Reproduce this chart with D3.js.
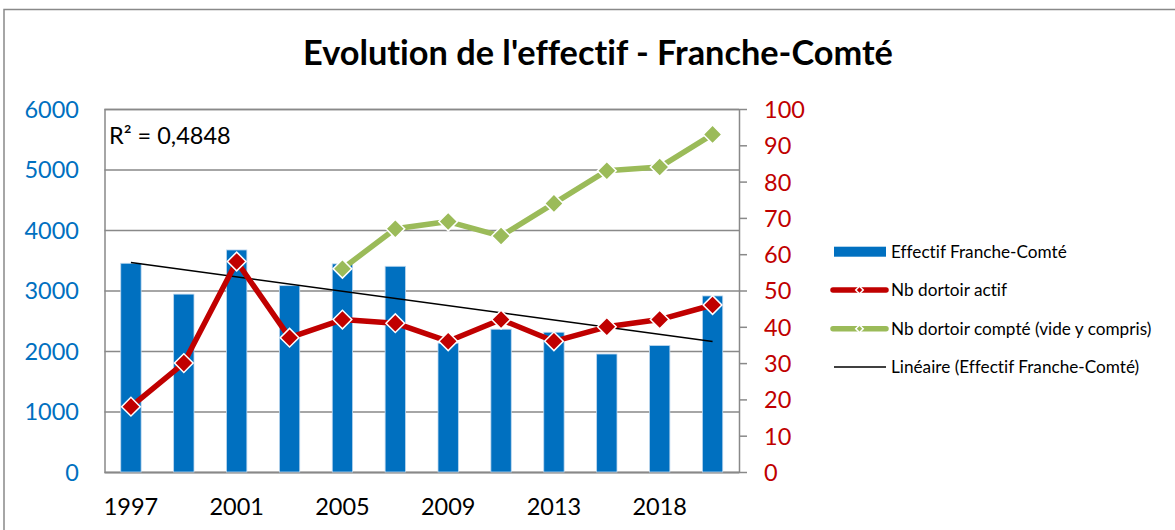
<!DOCTYPE html>
<html>
<head>
<meta charset="utf-8">
<script src="https://cdn.jsdelivr.net/npm/d3@7"></script>
<style>
  body { margin: 0; background: #fff; }
  svg { display: block; font-family: Lato, "Open Sans", sans-serif; font-variant-ligatures: none; }
</style>
</head>
<body>
<div id="chart"></div>
<script>
// data
const years = ['1997', '1999', '2001', '2003', '2005', '2007', '2009', '2011', '2013', '2015', '2018', '2020'];
const effectif = [3450, 2940, 3670, 3080, 3440, 3400, 2130, 2360, 2310, 1950, 2090, 2910];
const dortoirActif = [18, 30, 58, 37, 42, 41, 36, 42, 36, 40, 42, 46];
const dortoirCompte = [null, null, null, null, 56, 67, 69, 65, 74, 83, 84, 93];
const leftTicks = [0, 1000, 2000, 3000, 4000, 5000, 6000];
const rightTicks = [0, 10, 20, 30, 40, 50, 60, 70, 80, 90, 100];
const legendLabels = ['Effectif Franche-Comté', 'Nb dortoir actif', 'Nb dortoir compté (vide y compris)', 'Linéaire (Effectif Franche-Comté)'];
const title = "Evolution de l'effectif - Franche-Comté";
const r2Label = 'R² = 0,4848';

// dimensions
const WIDTH = 1175;
const HEIGHT = 530;
const PLOT_LEFT = 104.5;
const PLOT_RIGHT = 739;
const PLOT_TOP = 109;
const PLOT_BOTTOM = 472;

const BLUE = '#0070C0';
const RED = '#C00000';
const GREEN = '#9BBB59';
const GRID = '#898989';

const svg = d3.select('#chart').append('svg')
  .attr('width', WIDTH)
  .attr('height', HEIGHT);

// outer chart border
svg.append('rect')
  .attr('x', 4).attr('y', 9.5)
  .attr('width', WIDTH + 10).attr('height', HEIGHT + 10)
  .attr('fill', 'none')
  .attr('stroke', GRID)
  .attr('stroke-width', 1.5);

// title, sized to the reference width
const $title = svg.append('text')
  .attr('x', 598).attr('y', 64.5)
  .attr('text-anchor', 'middle')
  .attr('font-weight', 700)
  .attr('font-size', 30)
  .text(title);
const tw = $title.node().getComputedTextLength();
$title.attr('font-size', 30 * 590 / tw);

// scales
const x = d3.scaleBand()
  .domain(years)
  .range([PLOT_LEFT, PLOT_RIGHT])
  .paddingInner(0.615)
  .paddingOuter(0.3075);
const cx = d => x(d) + x.bandwidth() / 2;

const yLeft = d3.scaleLinear().domain([0, 6000]).range([PLOT_BOTTOM, PLOT_TOP]);
const yRight = d3.scaleLinear().domain([0, 100]).range([PLOT_BOTTOM, PLOT_TOP]);

// gridlines + left axis
const $left = svg.append('g')
  .attr('class', 'y axis')
  .attr('transform', `translate(${PLOT_LEFT},0)`)
  .call(d3.axisLeft(yLeft).tickValues(leftTicks).tickFormat(d3.format('d'))
    .tickSize(-(PLOT_RIGHT - PLOT_LEFT)).tickPadding(25.5));
$left.select('.domain').attr('stroke', GRID).attr('stroke-width', 1.5);
$left.selectAll('.tick line').attr('stroke', GRID).attr('stroke-width', 1.5);
$left.selectAll('.tick text')
  .attr('fill', BLUE)
  .attr('font-size', 23.5)
  .attr('font-family', 'Lato, sans-serif')
  .attr('dy', '0.36em');

// right axis
const $right = svg.append('g')
  .attr('class', 'y2 axis')
  .attr('transform', `translate(${PLOT_RIGHT},0)`)
  .call(d3.axisRight(yRight).tickValues(rightTicks).tickSize(8).tickSizeOuter(0).tickPadding(17));
$right.select('.domain').attr('stroke', GRID).attr('stroke-width', 1.5);
$right.selectAll('.tick line').attr('stroke', GRID).attr('stroke-width', 1.5);
$right.selectAll('.tick text')
  .attr('fill', RED)
  .attr('font-size', 23.5)
  .attr('font-family', 'Lato, sans-serif')
  .attr('dy', '0.36em');

// x axis (bottom line + every other label)
const $x = svg.append('g')
  .attr('class', 'x axis')
  .attr('transform', `translate(0,${PLOT_BOTTOM})`)
  .call(d3.axisBottom(x).tickSize(0).tickPadding(0)
    .tickFormat((d, i) => (i % 2 === 0 ? d : '')));
$x.select('.domain').attr('stroke', GRID).attr('stroke-width', 1.5);
$x.selectAll('.tick text')
  .attr('fill', '#000')
  .attr('font-size', 23.5)
  .attr('font-family', 'Lato, sans-serif')
  .attr('dy', 0)
  .attr('y', 43);

// bars
svg.append('g').attr('class', 'bars')
  .selectAll('rect')
  .data(effectif)
  .join('rect')
  .attr('x', (d, i) => x(years[i]))
  .attr('y', d => yLeft(d))
  .attr('width', x.bandwidth())
  .attr('height', d => PLOT_BOTTOM - yLeft(d))
  .attr('fill', BLUE)
  .attr('stroke', '#BDD7EE')
  .attr('stroke-width', 0.8);

// linear trend of effectif (least squares)
const n = effectif.length;
const xs = d3.range(1, n + 1);
const mx = d3.mean(xs);
const my = d3.mean(effectif);
const slope = d3.sum(xs, (v, i) => (v - mx) * (effectif[i] - my)) / d3.sum(xs, v => (v - mx) ** 2);
const trend = xs.map(v => my + slope * (v - mx));

svg.append('line')
  .attr('class', 'trend')
  .attr('x1', cx(years[0])).attr('y1', yLeft(trend[0]))
  .attr('x2', cx(years[n - 1])).attr('y2', yLeft(trend[n - 1]))
  .attr('stroke', '#000')
  .attr('stroke-width', 1.5);

// line series on right axis
const diamond = d3.symbol(d3.symbolSquare, 175);
function drawSeries(values, color, cls) {
  const pts = values.map((v, i) => ({ year: years[i], v })).filter(d => d.v !== null);
  const line = d3.line().x(d => cx(d.year)).y(d => yRight(d.v));
  const $g = svg.append('g').attr('class', cls);
  $g.append('path')
    .attr('d', line(pts))
    .attr('fill', 'none')
    .attr('stroke', color)
    .attr('stroke-width', 5.5)
    .attr('stroke-linejoin', 'round');
  $g.selectAll('path.marker')
    .data(pts)
    .join('path')
    .attr('class', 'marker')
    .attr('d', diamond)
    .attr('transform', d => `translate(${cx(d.year)},${yRight(d.v)}) rotate(45)`)
    .attr('fill', color)
    .attr('stroke', '#fff')
    .attr('stroke-width', 1.5);
}
drawSeries(dortoirActif, RED, 'actif');
drawSeries(dortoirCompte, GREEN, 'compte');

// R² label
svg.append('text')
  .attr('x', 109).attr('y', 144)
  .attr('font-size', 23.5)
  .text(r2Label);

// legend
const legendY = [251.7, 290, 328.7, 367];
const $legend = svg.append('g').attr('class', 'legend');
legendLabels.forEach((label, i) => {
  const y = legendY[i];
  if (i === 0) {
    $legend.append('rect')
      .attr('x', 834).attr('y', y - 5)
      .attr('width', 52).attr('height', 10)
      .attr('fill', BLUE);
  } else if (i === 3) {
    $legend.append('line')
      .attr('x1', 834).attr('x2', 886).attr('y1', y).attr('y2', y)
      .attr('stroke', '#000').attr('stroke-width', 1.5);
  } else {
    const color = i === 1 ? RED : GREEN;
    $legend.append('line')
      .attr('x1', 833).attr('x2', 886).attr('y1', y).attr('y2', y)
      .attr('stroke', color).attr('stroke-width', 5.5)
      .attr('stroke-linecap', 'round');
    $legend.append('path')
      .attr('d', d3.symbol(d3.symbolSquare, 28)())
      .attr('transform', `translate(859.5,${y}) rotate(45)`)
      .attr('fill', color)
      .attr('stroke', '#fff')
      .attr('stroke-width', 1.5);
  }
  $legend.append('text')
    .attr('x', 891).attr('y', y)
    .attr('dy', '0.35em')
    .attr('font-size', 17.2)
    .attr('fill', '#000')
    .text(label);
});
</script>
</body>
</html>
